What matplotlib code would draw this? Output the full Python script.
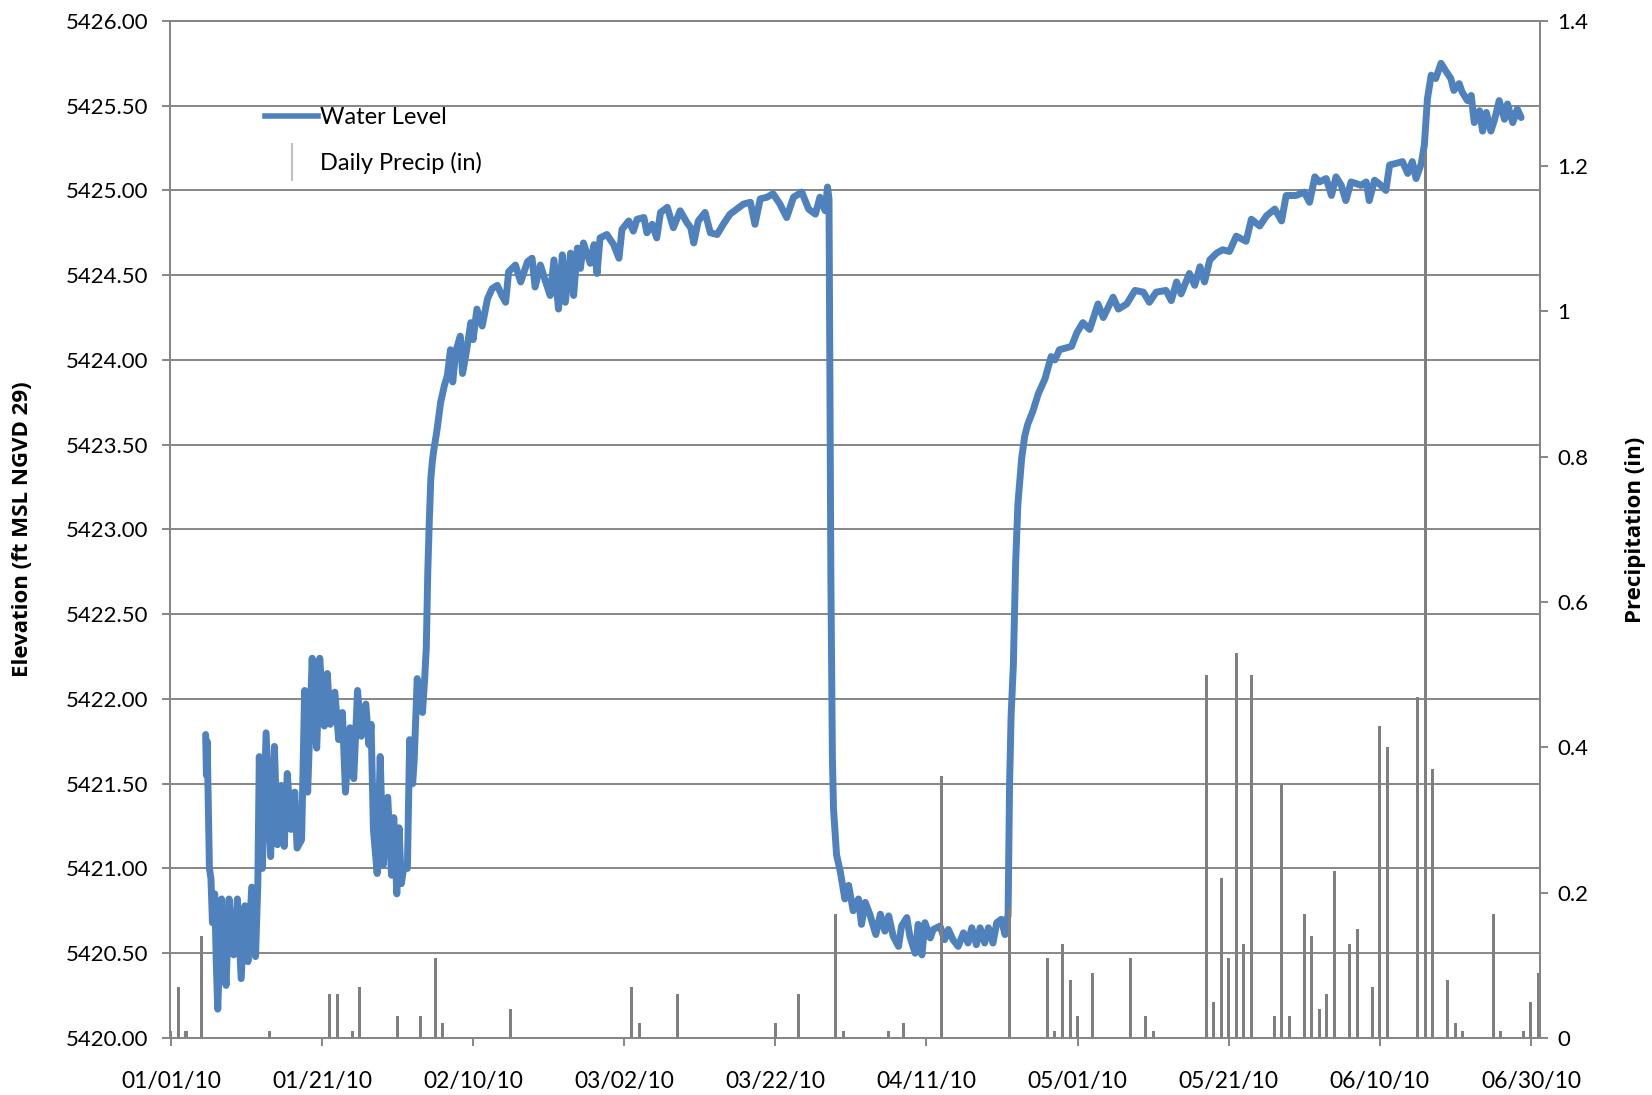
import matplotlib
matplotlib.use("agg")
import matplotlib.pyplot as plt
import matplotlib.dates as mdates
from matplotlib.lines import Line2D
from matplotlib.ticker import FuncFormatter, FixedLocator, MultipleLocator
import numpy as np
import datetime

plt.rcParams['font.family'] = ['Lato', 'DejaVu Sans']

# all times are days since 2010-01-01 00:00
start_date = datetime.datetime(2010, 1, 1)

wl_day = [4.6, 4.7, 4.8, 4.9, 5.1, 5.3, 5.5, 5.8, 6.0, 6.2, 6.7, 7.0, 7.3, 7.7, 8.0, 8.3, 8.8,
          9.3, 9.8, 10.2, 10.7, 11.2, 11.5, 11.7, 11.9, 12.1, 12.6, 13.2, 13.7, 14.1, 14.6,
          15.0, 15.4, 15.9, 16.4, 16.7, 17.3, 17.5, 17.7, 18.1, 18.7, 19.0, 19.3, 19.7, 20.3,
          20.7, 21.1, 21.7, 22.2, 22.7, 23.1, 23.7, 24.2, 24.7, 25.2, 25.8, 26.2, 26.5, 26.8,
          27.3, 27.7, 28.1, 28.7, 29.2, 29.5, 29.9, 30.2, 30.5, 30.8, 31.3, 31.6, 32.0, 32.2,
          32.6, 32.9, 33.3, 33.6, 33.8, 34.0, 34.2, 34.4, 34.6, 34.8, 35.2, 35.7, 36.2, 36.6,
          37.0, 37.3, 37.7, 38.3, 38.6, 39.0, 39.7, 40.0, 40.5, 41.2, 41.9, 42.5, 43.2, 43.8,
          44.3, 44.7, 45.6, 46.3, 47.2, 47.8, 48.2, 48.9, 49.6, 50.2, 50.7, 51.3, 51.8, 52.2,
          52.9, 53.3, 53.8, 54.2, 54.6, 55.5, 56.0, 56.4, 56.8, 57.7, 58.6, 59.3, 59.7, 60.6,
          61.2, 61.7, 62.6, 63.0, 63.7, 64.3, 64.8, 65.7, 66.5, 67.4, 68.3, 68.8, 69.2, 69.8,
          70.7, 71.4, 72.3, 73.1, 74.0, 74.9, 75.8, 76.7, 77.3, 78.0, 78.9, 79.7, 80.6, 81.5,
          82.4, 83.5, 84.4, 85.3, 85.9, 86.6, 86.9, 87.1, 87.25, 87.35, 87.45, 87.55, 87.7,
          88.1, 88.6, 89.2, 89.7, 90.3, 91.0, 91.4, 91.9, 92.5, 93.3, 93.9, 94.5, 95.0, 95.6,
          96.3, 96.7, 97.4, 97.8, 98.5, 98.9, 99.4, 99.8, 100.5, 100.9, 101.8, 102.4, 102.9,
          103.5, 104.2, 104.9, 105.5, 106.0, 106.6, 107.1, 107.7, 108.2, 108.8, 109.3, 109.9,
          110.4, 110.6, 110.8, 111.0, 111.2, 111.5, 111.8, 112.1, 112.6, 113.0, 113.4, 114.1,
          114.8, 115.7, 116.5, 117.0, 117.6, 119.2, 119.9, 120.7, 121.6, 122.7, 123.4, 124.7,
          125.4, 126.5, 127.6, 128.7, 129.5, 130.4, 131.7, 132.4, 133.1, 133.7, 134.8, 135.5,
          136.2, 136.8, 137.5, 138.4, 139.2, 140.1, 141.0, 142.3, 143.0, 144.1, 145.0, 146.1,
          147.0, 147.6, 148.9, 150.0, 150.7, 151.4, 152.0, 152.9, 153.6, 154.2, 154.9, 155.5,
          156.2, 156.9, 157.5, 158.2, 158.6, 159.3, 159.9, 160.8, 161.3, 162.2, 163.0, 163.7,
          164.3, 164.8, 165.5, 165.9, 166.3, 166.8, 167.4, 168.1, 168.8, 169.4, 169.8, 170.5,
          170.9, 171.6, 172.1, 172.5, 173.2, 173.6, 174.1, 174.7, 175.2, 175.8, 176.5, 176.9,
          177.6, 178.2, 178.7]

wl_ft = [5421.79, 5421.55, 5421.75, 5421.50, 5421.00, 5420.94, 5420.68, 5420.85, 5420.45,
         5420.17, 5420.82, 5420.50, 5420.31, 5420.82, 5420.60, 5420.49, 5420.82, 5420.35,
         5420.78, 5420.45, 5420.89, 5420.48, 5420.90, 5421.66, 5421.30, 5421.00, 5421.80,
         5421.07, 5421.72, 5421.14, 5421.49, 5421.13, 5421.56, 5421.23, 5421.45, 5421.12,
         5421.17, 5421.60, 5422.05, 5421.45, 5422.24, 5421.85, 5421.71, 5422.24, 5421.84,
         5422.15, 5421.85, 5422.04, 5421.76, 5421.92, 5421.45, 5421.83, 5421.53, 5422.05,
         5421.78, 5421.97, 5421.73, 5421.85, 5421.23, 5420.97, 5421.66, 5421.02, 5421.42,
         5420.96, 5421.30, 5420.85, 5421.24, 5420.91, 5421.00, 5421.00, 5421.76, 5421.50,
         5421.64, 5422.12, 5421.95, 5421.92, 5422.13, 5422.30, 5422.75, 5423.05, 5423.30,
         5423.40, 5423.47, 5423.58, 5423.75, 5423.85, 5423.91, 5424.06, 5423.87, 5424.05,
         5424.14, 5423.92, 5424.02, 5424.22, 5424.12, 5424.30, 5424.20, 5424.36, 5424.42,
         5424.44, 5424.38, 5424.34, 5424.52, 5424.56, 5424.46, 5424.58, 5424.60, 5424.43,
         5424.56, 5424.46, 5424.38, 5424.59, 5424.30, 5424.62, 5424.34, 5424.63, 5424.38,
         5424.66, 5424.54, 5424.69, 5424.57, 5424.68, 5424.51, 5424.72, 5424.74, 5424.68,
         5424.60, 5424.77, 5424.82, 5424.76, 5424.83, 5424.84, 5424.75, 5424.80, 5424.72,
         5424.87, 5424.90, 5424.78, 5424.88, 5424.81, 5424.78, 5424.69, 5424.82, 5424.87,
         5424.75, 5424.74, 5424.80, 5424.86, 5424.89, 5424.92, 5424.93, 5424.80, 5424.95,
         5424.96, 5424.98, 5424.92, 5424.84, 5424.96, 5424.99, 5424.89, 5424.86, 5424.96,
         5424.88, 5425.02, 5424.95, 5423.60, 5422.70, 5422.20, 5421.65, 5421.35, 5421.08,
         5420.98, 5420.82, 5420.90, 5420.75, 5420.82, 5420.67, 5420.80, 5420.73, 5420.61,
         5420.73, 5420.63, 5420.72, 5420.60, 5420.54, 5420.66, 5420.71, 5420.60, 5420.50,
         5420.67, 5420.49, 5420.68, 5420.59, 5420.64, 5420.66, 5420.58, 5420.64, 5420.58,
         5420.54, 5420.62, 5420.56, 5420.65, 5420.55, 5420.65, 5420.56, 5420.65, 5420.56,
         5420.68, 5420.70, 5420.61, 5420.70, 5420.72, 5421.50, 5421.90, 5422.20, 5422.80,
         5423.15, 5423.42, 5423.55, 5423.62, 5423.70, 5423.80, 5423.89, 5424.02, 5424.00,
         5424.06, 5424.08, 5424.16, 5424.22, 5424.18, 5424.33, 5424.25, 5424.37, 5424.30,
         5424.33, 5424.41, 5424.40, 5424.34, 5424.40, 5424.41, 5424.35, 5424.46, 5424.39,
         5424.51, 5424.44, 5424.55, 5424.46, 5424.59, 5424.63, 5424.65, 5424.64, 5424.73,
         5424.70, 5424.83, 5424.79, 5424.85, 5424.89, 5424.82, 5424.97, 5424.97, 5424.99,
         5424.93, 5425.08, 5425.05, 5425.07, 5424.97, 5425.08, 5425.03, 5424.94, 5425.05,
         5425.04, 5425.03, 5425.05, 5424.94, 5425.06, 5425.04, 5425.00, 5425.15, 5425.16,
         5425.17, 5425.10, 5425.17, 5425.07, 5425.16, 5425.27, 5425.54, 5425.68, 5425.66,
         5425.75, 5425.70, 5425.66, 5425.59, 5425.63, 5425.58, 5425.53, 5425.56, 5425.40,
         5425.47, 5425.35, 5425.46, 5425.35, 5425.42, 5425.53, 5425.42, 5425.51, 5425.40,
         5425.48, 5425.43]

precip_day = [0, 1, 2, 4, 13, 21, 22, 24, 25, 30, 33, 35, 36, 45, 61, 62, 67, 80, 83, 88, 89,
              95, 97, 102, 111, 116, 117, 118, 119, 120, 122, 127, 129, 130, 137, 138, 139,
              140, 141, 142, 143, 146, 147, 148, 150, 151, 152, 153, 154, 156, 157, 159, 160,
              161, 165, 166, 167, 169, 170, 171, 175, 176, 179, 180, 181]
precip_in = [0.01, 0.07, 0.01, 0.14, 0.01, 0.06, 0.06, 0.01, 0.07, 0.03, 0.03, 0.11, 0.02,
             0.04, 0.07, 0.02, 0.06, 0.02, 0.06, 0.17, 0.01, 0.01, 0.02, 0.36, 0.18, 0.11,
             0.01, 0.13, 0.08, 0.03, 0.09, 0.11, 0.03, 0.01, 0.50, 0.05, 0.22, 0.11, 0.53,
             0.13, 0.50, 0.03, 0.35, 0.03, 0.17, 0.14, 0.04, 0.06, 0.23, 0.13, 0.15, 0.07,
             0.43, 0.40, 0.47, 1.22, 0.37, 0.08, 0.02, 0.01, 0.17, 0.01, 0.01, 0.05, 0.09]

tick_days = [0, 20, 40, 60, 80, 100, 120, 140, 160, 180]

blue = '#4f81bd'
gray = '#868686'
bar_gray = '#7f7f7f'
label_font = ['Open Sans', 'DejaVu Sans']

t0 = mdates.date2num(start_date)
wl_x = t0 + np.array(wl_day)
precip_x = t0 + np.array(precip_day)

fig = plt.figure(figsize=(16.52, 10.95), dpi=100)
ax = fig.add_axes([0.1029, 0.0521, 0.8293, 0.9288])
ax2 = ax.twinx()

ax.plot(wl_x, wl_ft, color=blue, lw=5, solid_joinstyle='round', solid_capstyle='round')
ax2.bar(precip_x, precip_in, width=0.4, color=bar_gray, linewidth=0)

ax.set_xlim(t0 - 0.12, t0 + 181.2)
ax.set_ylim(5420, 5426)
ax2.set_ylim(0, 1.4)

ax.xaxis.set_major_locator(FixedLocator(t0 + np.array(tick_days)))
ax.xaxis.set_major_formatter(mdates.DateFormatter('%m/%d/%y'))
ax.yaxis.set_major_locator(MultipleLocator(0.5))
ax.yaxis.set_major_formatter(FuncFormatter(lambda v, p: '%.2f' % v))
ax2.yaxis.set_major_locator(MultipleLocator(0.2))
ax2.yaxis.set_major_formatter(FuncFormatter(lambda v, p: '%g' % round(v, 1)))

ax.set_axisbelow(True)
ax.grid(axis='y', color=gray, lw=1.4)

for a in (ax, ax2):
    for s in a.spines.values():
        s.set_color(gray)
        s.set_linewidth(1.4)
ax.tick_params(axis='y', direction='out', length=5.5, width=1.4, color=gray, labelsize=16, pad=10)
ax.tick_params(axis='x', direction='out', length=5.5, width=1.4, color=gray, labelsize=16.5, pad=18)
ax2.tick_params(axis='y', direction='out', length=5.5, width=1.4, color=gray, labelsize=16, pad=7)

ax.set_ylabel('Elevation (ft MSL NGVD 29)', fontsize=16, fontweight='bold', family=label_font)
ax.yaxis.set_label_coords(-0.100, 0.5)
ax2.set_ylabel('Precipitation (in)', fontsize=16, fontweight='bold', family=label_font)
ax2.yaxis.set_label_coords(1.062, 0.5)

handles = [Line2D([], [], color=blue, lw=4),
           Line2D([], [], color='#bfbfbf', marker='|', ls='none', markersize=28, mew=1.5)]
ax2.legend(handles, ['Water Level', 'Daily Precip (in)'], loc='upper left',
           bbox_to_anchor=(0.1604, 0.902), bbox_transform=fig.transFigure, frameon=False,
           fontsize=17, handlelength=2.25, handletextpad=0.1, labelspacing=1.0,
           borderpad=0, borderaxespad=0)

fig.savefig('out.png', dpi=100)
